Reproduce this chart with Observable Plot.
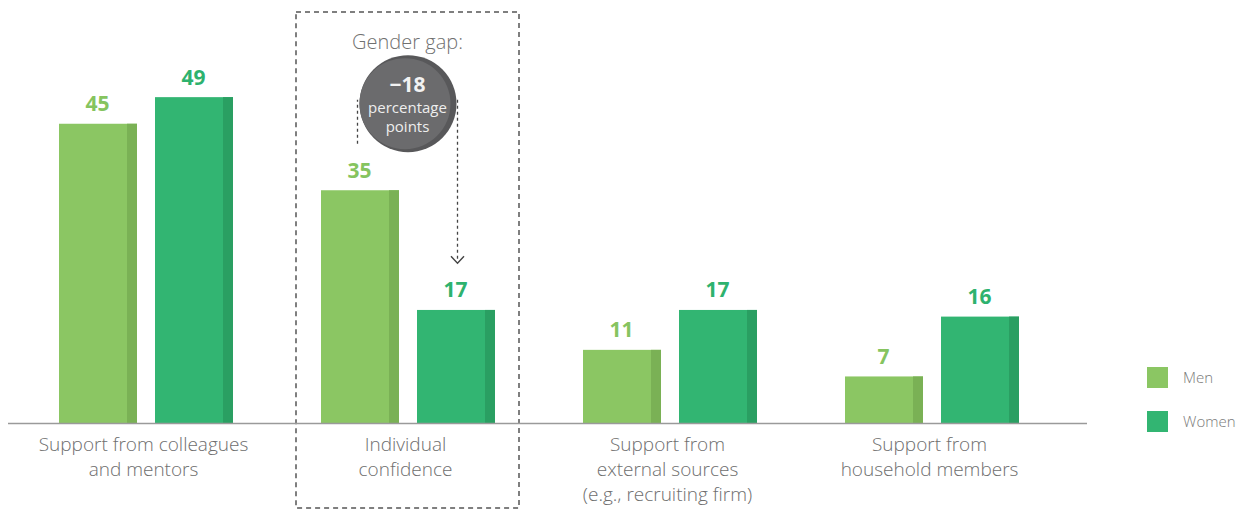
<!DOCTYPE html>
<html>
<head>
<meta charset="utf-8">
<script src="https://cdn.jsdelivr.net/npm/d3@7"></script>
<script src="https://cdn.jsdelivr.net/npm/@observablehq/plot@0.6"></script>
<style>
  html, body { margin: 0; padding: 0; background: #fff; }
  #wrap { position: relative; width: 1247px; height: 509px; font-family: "Open Sans", sans-serif; }
  #legend { position: absolute; left: 1147px; top: 366px; }
  .item { display: flex; align-items: center; height: 22px; margin-bottom: 22px; }
  .sw { width: 21px; height: 21px; margin-right: 15px; }
  .lab { font-size: 15px; color: #7a7a7a; font-weight: 300; }
</style>
</head>
<body>
<div id="wrap"></div>
<script>
// ---- data ----
const categories = [
  "Support from colleagues\nand mentors",
  "Individual\nconfidence",
  "Support from\nexternal sources\n(e.g., recruiting firm)",
  "Support from\nhousehold members"
];
const series = ["Men", "Women"];
const men = [45, 35, 11, 7];
const women = [49, 17, 17, 16];
const fills = ["#8bc663", "#32b572"];
const stripes = ["#7ab155", "#2a9f62"];
const labelColors = ["#86c45f", "#2eb26e"];
const highlight = categories[1];

const rows = [];
categories.forEach((c, i) => {
  rows.push({category: c, series: "Men", value: men[i]});
  rows.push({category: c, series: "Women", value: women[i]});
});
const menRows = rows.filter(d => d.series === "Men");
const womenRows = rows.filter(d => d.series === "Women");

const hi = categories.indexOf(highlight);
const gapValue = women[hi] - men[hi];
const fmtGap = v => (v < 0 ? "\u2212" : "+") + Math.abs(v);

const chevron = {
  draw(ctx, size) {
    ctx.moveTo(-6.5, -7);
    ctx.lineTo(0, 0);
    ctx.lineTo(6.5, -7);
  }
};

const lineTop = men[hi] + 13.6;
const annoRow = [{category: highlight}];

const plot = Plot.plot({
  width: 1247,
  height: 509,
  marginLeft: 8,
  marginRight: 160,
  marginTop: 24,
  marginBottom: 86,
  style: {fontFamily: "Open Sans, sans-serif", background: "transparent", overflow: "visible"},
  x: {domain: categories, paddingInner: 0.334, paddingOuter: 0.22, align: 0.43, axis: null},
  y: {domain: [0, 60], axis: null},
  marks: [
    // dashed highlight box
    Plot.barY(annoRow, {x: "category", y1: -12.8, y2: 61.8, insetLeft: -25, insetRight: -24,
      fill: "none", stroke: "#555", strokeWidth: 1.5, strokeDasharray: "5,4"}),
    // bars
    Plot.barY(menRows, {x: "category", y: "value", fill: fills[0], insetRight: 96}),
    Plot.barY(menRows, {x: "category", y: "value", fill: stripes[0], insetLeft: 68, insetRight: 96}),
    Plot.barY(womenRows, {x: "category", y: "value", fill: fills[1], insetLeft: 96}),
    Plot.barY(womenRows, {x: "category", y: "value", fill: stripes[1], insetLeft: 164}),
    // baseline
    Plot.ruleY([0], {stroke: "#9a9a9a", strokeWidth: 1.5}),
    // value labels
    Plot.text(menRows, {x: "category", y: "value", text: d => String(d.value), dx: -49, dy: -13,
      lineAnchor: "bottom", fill: labelColors[0], fontSize: 21, fontWeight: "bold"}),
    Plot.text(womenRows, {x: "category", y: "value", text: d => String(d.value), dx: 47, dy: -13,
      lineAnchor: "bottom", fill: labelColors[1], fontSize: 21, fontWeight: "bold"}),
    // category labels
    Plot.text(categories, {x: d => d, y: 0, text: d => d, dy: 10, dx: -3, lineAnchor: "top",
      lineHeight: 1.32, fontSize: 19, fontWeight: 300, fill: "#6e6e6e"}),
    // gap connectors
    Plot.ruleX(annoRow, {x: "category", y1: men[hi] + 7, y2: lineTop, dx: -51,
      stroke: "#444", strokeWidth: 1.3, strokeDasharray: "3,3"}),
    Plot.ruleY(annoRow, {x: "category", y: lineTop, insetLeft: 37, insetRight: 39,
      stroke: "#444", strokeWidth: 1.3, strokeDasharray: "3,3"}),
    Plot.ruleX(annoRow, {x: "category", y1: lineTop, y2: women[hi] + 7.3, dx: 49,
      stroke: "#444", strokeWidth: 1.3, strokeDasharray: "3,3"}),
    Plot.dot(annoRow, {x: "category", y: women[hi] + 7.1, dx: 49, symbol: chevron,
      fill: "none", stroke: "#444", strokeWidth: 1.4}),
    // gap bubble
    Plot.dot(annoRow, {x: "category", y: 48.1, r: 48.5, fill: "#58585a", dx: -0.5}),
    Plot.dot(annoRow, {x: "category", y: 48.1, r: 45.5, fill: "#6b6b6d", dx: -3.5}),
    Plot.text(annoRow, {x: "category", y: 48.1, text: () => fmtGap(gapValue), dy: -18, dx: -1,
      fill: "#f2f2f2", fontSize: 21, fontWeight: "bold"}),
    Plot.text(annoRow, {x: "category", y: 48.1, text: () => "percentage", dy: 5, dx: -1,
      fill: "#eeeeee", fontSize: 15}),
    Plot.text(annoRow, {x: "category", y: 48.1, text: () => "points", dy: 24, dx: -1,
      fill: "#eeeeee", fontSize: 15}),
    Plot.text(annoRow, {x: "category", y: 57.3, text: () => "Gender gap:", dx: -1,
      fill: "#707070", fontSize: 20, fontWeight: 300})
  ]
});

const wrap = document.getElementById("wrap");
wrap.appendChild(plot);

const legend = document.createElement("div");
legend.id = "legend";
series.forEach((s, i) => {
  const item = document.createElement("div");
  item.className = "item";
  const sw = document.createElement("div");
  sw.className = "sw";
  sw.style.background = fills[i];
  const lab = document.createElement("span");
  lab.className = "lab";
  lab.textContent = s;
  item.appendChild(sw);
  item.appendChild(lab);
  legend.appendChild(item);
});
wrap.appendChild(legend);
</script>
</body>
</html>
